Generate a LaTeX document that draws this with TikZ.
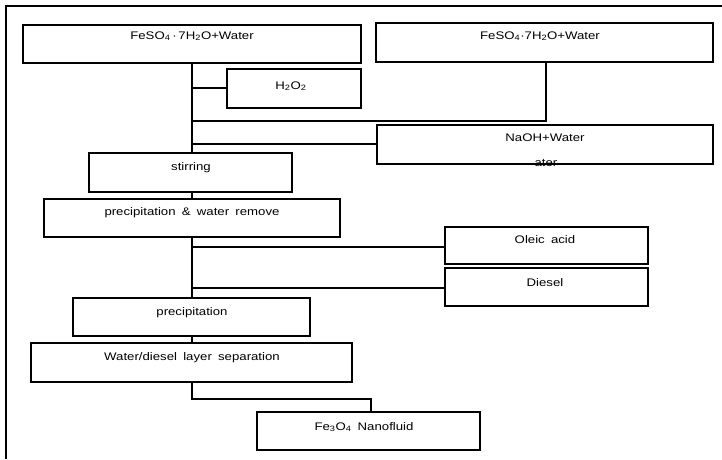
\documentclass[tikz,border=0pt]{standalone}
\usepackage{fontspec}
\setmainfont{Liberation Sans}[FakeStretch=1.2, WordSpace={1.7}]
\begin{document}
\begin{tikzpicture}[x=1pt,y=-1pt,
  box/.style={draw, line width=1.7pt, rectangle, inner sep=0pt, outer sep=0pt, anchor=north west},
  txt/.style={font=\fontsize{11}{13}\selectfont, inner sep=0pt},
  conn/.style={line width=1.7pt},
  frame/.style={line width=1.4pt}]
\useasboundingbox (0,0) rectangle (722,459);
% outer frame (top and left only)
\coordinate (fbl) at (6,459);
\coordinate (ftl) at (6,6);
\coordinate (ftr) at (722,6);
\draw[frame] (fbl) -- (ftl) -- (ftr);
% main trunk x
\coordinate (m) at (192,0);
% text cut by the NaOH box edge
\node[txt] (atert) at (546,163) {ater};
% boxes
\node[box, minimum width=338pt, minimum height=38pt] (b1) at (23,25) {};
\node[box, minimum width=337pt, minimum height=39pt] (b2) at (376,23) {};
\node[box, minimum width=134pt, minimum height=39pt] (h2o2) at (227,69) {};
\node[box, minimum width=336pt, minimum height=39pt] (naoh) at (377,125) {};
\node[box, minimum width=203pt, minimum height=39pt] (stir) at (89,153) {};
\node[box, minimum width=296pt, minimum height=38pt] (pwr) at (44,199) {};
\node[box, minimum width=203pt, minimum height=37pt] (oleic) at (445,227) {};
\node[box, minimum width=203pt, minimum height=38pt] (diesel) at (445,268) {};
\node[box, minimum width=237pt, minimum height=38pt] (precip) at (73,298) {};
\node[box, minimum width=321pt, minimum height=39pt] (wds) at (31,343) {};
\node[box, minimum width=223pt, minimum height=38pt] (fe) at (257,412) {};
% texts
\node[txt] (b1t) at (192,36) {FeSO\textsubscript{4}\,·\,7H\textsubscript{2}O+Water};
\node[txt] (b2t) at (540,36) {FeSO\textsubscript{4}·7H\textsubscript{2}O+Water};
\node[txt] (h2o2t) at (291,86) {H\textsubscript{2}O\textsubscript{2}};
\node[txt] (naoht) at (545,138) {NaOH+Water};
\node[txt] (stirt) at (191,168) {stirring};
\node[txt] (pwrt) at (192,213) {precipitation \& water remove};
\node[txt] (oleict) at (545,240) {Oleic acid};
\node[txt] (dieselt) at (545,283) {Diesel};
\node[txt] (precipt) at (192,313) {precipitation};
\node[txt] (wdst) at (192,358) {Water/diesel layer separation};
\node[txt] (fet) at (364,427) {Fe\textsubscript{3}O\textsubscript{4} Nanofluid};
% connector helper coordinates
\coordinate (jb2) at (546,121);
\coordinate (jfe) at (192,399);
\coordinate (jfe2) at (371,399);
% connectors
\draw[conn] (b1.south -| m) -- (stir.north -| m);
\draw[conn] (stir.south -| m) -- (pwr.north -| m);
\draw[conn] (pwr.south -| m) -- (precip.north -| m);
\draw[conn] (precip.south -| m) -- (wds.north -| m);
\draw[conn] (wds.south -| m) -- (jfe) -- (jfe2) -- (fe.north -| jfe2);
\draw[conn] (h2o2.west |- 0,88) -- (m |- 0,88);
\draw[conn] (b2.south -| jb2) -- (jb2) -- (m |- jb2);
\draw[conn] (naoh.west |- 0,144) -- (m |- 0,144);
\draw[conn] (oleic.west |- 0,247) -- (m |- 0,247);
\draw[conn] (diesel.west |- 0,288) -- (m |- 0,288);
\end{tikzpicture}
\end{document}
